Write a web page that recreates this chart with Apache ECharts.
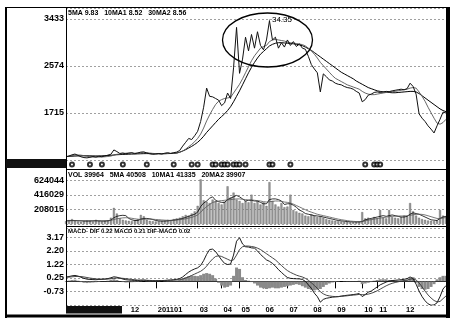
<!DOCTYPE html>
<html><head><meta charset="utf-8">
<script src="https://cdn.jsdelivr.net/npm/echarts@6/dist/echarts.min.js"></script>
<style>html,body{margin:0;padding:0;background:#fff}#c{width:457px;height:325px}</style>
</head><body><div id="c"></div>
<script>
// ---- price panel (axis units) ----
const CLOSE = [
 910,930,950,965,940,915,900,895,905,920,
 910,925,915,930,945,960,1040,1010,975,985,
 970,980,990,970,985,1000,1005,985,970,960,
 965,975,965,980,990,975,990,1000,1030,1110,
 1180,1250,1230,1300,1380,1560,1820,2170,2020,2010,
 1980,1950,1850,1900,2080,1980,2540,3280,2440,2700,
 3100,2850,3150,2900,3200,2950,2870,3050,3400,3050,
 3100,2900,3000,2920,3050,2950,3020,2930,2980,2900,
 2880,2750,2600,2520,2450,2100,2430,2380,2320,2300,
 2260,2240,2230,2200,2180,2170,2150,2110,2080,1920,
 1960,2040,2060,2090,2100,2090,2100,2110,2105,2120,
 2130,2140,2150,2140,2160,2260,2200,2060,1700,1620,
 1560,1480,1420,1350,1480,1600,1730,1715];
const MA10 = [
 920,925,935,945,948,945,935,925,915,910,
 908,910,912,915,920,928,945,960,965,972,
 980,985,982,980,983,987,990,988,983,977,
 972,970,970,972,975,978,980,985,995,1020,
 1055,1100,1140,1190,1250,1330,1440,1570,1680,1780,
 1870,1930,1960,1980,1990,2000,2080,2160,2240,2340,
 2450,2560,2670,2760,2830,2900,2930,2950,3020,3050,
 3060,3050,3040,3030,3010,3000,2990,2985,2975,2965,
 2940,2900,2850,2790,2720,2640,2580,2520,2460,2400,
 2350,2320,2290,2260,2230,2210,2190,2170,2150,2110,
 2080,2060,2050,2050,2060,2070,2080,2090,2100,2105,
 2110,2120,2130,2140,2150,2170,2180,2170,2100,2020,
 1930,1820,1720,1620,1530,1510,1540,1600];
const MA30 = [
 920,922,925,928,930,932,933,933,932,931,
 930,930,932,935,938,942,948,952,955,958,
 960,962,964,966,968,970,972,973,972,971,
 970,970,970,971,973,975,978,982,1000,1020,
 1045,1075,1105,1140,1180,1230,1290,1360,1420,1480,
 1540,1600,1650,1700,1760,1830,1920,2020,2120,2230,
 2340,2450,2550,2640,2720,2790,2840,2890,2940,2970,
 2990,3000,3000,2995,2990,2985,2980,2970,2960,2945,
 2920,2890,2860,2820,2780,2740,2700,2660,2620,2580,
 2540,2500,2460,2430,2400,2370,2340,2300,2270,2240,
 2210,2180,2160,2140,2120,2110,2100,2095,2090,2085,
 2085,2090,2095,2100,2105,2110,2110,2100,2070,2030,
 1990,1950,1910,1870,1830,1790,1760,1740];
const PRICE_TICKS = ['1715','2574','3433'];
const PRICE_MIN = 856, PRICE_STEP = 859, PRICE_MAX = 3634;
const PEAK_INDEX = 68, PEAK_VALUE = 3415, PEAK_TEXT = '34.35';
const EVENT_INDEX = [2,8,12,19,27,36,42,44,49,50,52,53,54,56,57,58,60,68,69,75,100,103,104,105];

// ---- volume panel (thousands) ----
const VOL = [
 40,55,70,45,35,30,40,50,45,35,
 60,40,35,45,50,90,230,150,80,60,
 50,45,40,55,70,130,110,60,45,40,
 35,40,45,50,60,55,70,80,90,110,
 130,120,150,180,260,640,340,320,300,350,
 330,300,280,320,540,380,450,350,330,300,
 330,310,420,300,330,280,310,260,600,330,
 280,250,300,240,250,420,200,180,160,150,
 120,110,140,120,100,110,90,70,60,50,
 45,40,35,30,30,25,25,30,35,170,
 80,90,70,100,80,200,90,80,200,100,
 90,80,100,120,110,300,180,120,90,70,
 60,50,45,40,50,200,120,90];
const VMA5 = [
 45,48,50,50,47,45,43,42,44,45,
 47,45,42,43,47,55,90,110,120,125,
 120,80,60,50,50,70,80,80,75,65,
 50,45,42,42,45,50,55,62,70,80,
 95,110,125,140,170,250,300,330,370,390,
 340,320,310,310,350,370,390,410,390,360,
 330,340,340,330,330,310,290,290,350,360,
 360,350,330,280,290,290,270,240,200,180,
 150,140,130,120,115,110,100,90,80,70,
 60,50,45,40,35,32,30,30,30,35,
 60,70,80,90,100,110,120,110,120,130,
 120,110,100,100,110,140,160,150,140,120,
 100,80,60,55,50,80,100,110];
const VMA10 = [
 45,46,47,48,48,47,46,45,45,45,
 46,46,45,45,46,50,65,75,82,88,
 90,88,82,75,68,65,68,70,70,68,
 65,62,58,55,52,52,55,58,62,68,
 75,85,95,110,130,170,210,250,280,310,
 320,330,335,340,345,350,355,360,360,355,
 350,345,345,340,335,330,320,315,320,325,
 330,330,325,315,310,300,285,265,245,225,
 205,185,170,155,140,130,120,110,100,90,
 80,70,62,55,48,42,38,35,34,35,
 45,55,62,70,78,85,92,98,105,110,
 112,114,115,115,118,125,132,138,140,138,
 130,118,105,92,80,78,85,95];
const VOL_TICKS = ['208015','416029','624044'];
const VOL_STEP = 624.044/3, VOL_MAX = 789.0;

// ---- MACD panel ----
const DIF = [
 0.31,0.35,0.40,0.43,0.38,0.30,0.22,0.16,0.14,0.13,
 0.12,0.14,0.15,0.17,0.20,0.26,0.33,0.30,0.24,0.17,
 0.12,0.10,0.08,0.07,0.06,0.08,0.09,0.07,0.05,0.04,
 0.04,0.05,0.06,0.07,0.09,0.10,0.12,0.15,0.20,0.32,
 0.50,0.67,0.80,0.90,0.98,1.15,1.50,1.95,2.30,2.33,
 2.15,1.85,1.55,1.30,1.22,1.25,1.90,2.90,3.15,2.70,
 2.50,2.48,2.42,2.40,2.20,1.95,1.75,1.55,1.45,1.30,
 1.10,0.85,0.65,0.45,0.28,0.22,0.20,0.19,0.18,0.14,
 0.00,-0.25,-0.50,-0.85,-1.10,-1.50,-1.30,-1.22,-1.18,-1.14,
 -1.12,-1.10,-1.06,-1.03,-1.00,-0.98,-0.95,-0.92,-0.88,-1.10,
 -0.95,-0.78,-0.70,-0.55,-0.40,-0.25,-0.15,-0.05,0.02,0.06,
 0.08,0.10,0.12,0.15,0.20,0.32,0.20,-0.20,-0.70,-1.10,
 -1.40,-1.62,-1.72,-1.70,-1.55,-1.10,-0.55,-0.30];
const DEA = [
 0.30,0.31,0.33,0.35,0.36,0.35,0.32,0.28,0.24,0.21,
 0.18,0.17,0.16,0.16,0.17,0.19,0.22,0.24,0.24,0.22,
 0.20,0.17,0.14,0.12,0.10,0.09,0.09,0.08,0.07,0.06,
 0.06,0.06,0.06,0.06,0.07,0.08,0.09,0.11,0.13,0.17,
 0.24,0.33,0.43,0.53,0.63,0.73,0.88,1.10,1.38,1.62,
 1.80,1.85,1.80,1.70,1.60,1.50,1.55,1.90,2.30,2.50,
 2.55,2.55,2.52,2.48,2.40,2.30,2.15,2.00,1.85,1.70,
 1.55,1.35,1.15,0.95,0.78,0.65,0.55,0.45,0.38,0.32,
 0.22,0.08,-0.10,-0.30,-0.50,-0.75,-0.90,-1.00,-1.05,-1.08,
 -1.10,-1.10,-1.08,-1.06,-1.04,-1.01,-0.99,-0.97,-0.94,-0.96,
 -0.96,-0.92,-0.86,-0.78,-0.68,-0.56,-0.44,-0.32,-0.22,-0.14,
 -0.08,-0.03,0.02,0.06,0.10,0.16,0.18,0.10,-0.10,-0.40,
 -0.70,-0.98,-1.20,-1.38,-1.48,-1.45,-1.25,-1.05];
const HIST = [
 0.02,0.06,0.10,0.12,0.05,-0.05,-0.10,-0.12,-0.10,-0.08,
 -0.06,-0.04,-0.02,0.02,0.05,0.10,0.15,0.10,0.02,-0.05,
 -0.08,-0.07,-0.06,-0.05,-0.04,-0.02,0.00,-0.02,-0.03,-0.03,
 -0.03,-0.02,0.00,0.02,0.03,0.04,0.05,0.06,0.10,0.20,
 0.30,0.38,0.42,0.40,0.38,0.45,0.55,0.60,0.55,0.45,
 0.20,-0.10,-0.30,-0.45,-0.40,-0.30,0.40,1.00,0.90,0.30,
 0.10,0.05,-0.05,-0.15,-0.30,-0.45,-0.50,-0.55,-0.50,-0.45,
 -0.50,-0.50,-0.45,-0.40,-0.35,-0.30,-0.25,-0.20,-0.25,-0.35,
 -0.45,-0.55,-0.60,-0.65,-0.60,-0.55,-0.40,-0.25,-0.15,-0.08,
 -0.05,-0.03,0.00,0.02,0.03,0.03,0.03,0.03,0.05,-0.20,
 -0.15,-0.10,-0.05,0.05,0.10,0.15,0.15,0.15,0.10,0.08,
 0.06,0.05,0.06,0.08,0.10,0.25,0.30,-0.10,-0.40,-0.55,
 -0.60,-0.55,-0.40,-0.20,0.15,0.30,0.40,0.40];
const MACD_TICKS = ['-0.73','0.25','1.22','2.20','3.17'];
const MACD_MIN = -1.705, MACD_STEP = 0.975, MACD_MAX = 3.855;

// ---- time axis ----
const MONTH_TICK_INDEX = [21,30,44,52,58,66,74,82,90,99,104,113];
const MONTH_TICK_LABEL = ['12','201101','03','04','05','06','07','08','09','10','11','12'];

// ---- headers ----
const HEAD_PRICE = '5MA 9.83   10MA1 8.52   30MA2 8.56';
const HEAD_VOL = 'VOL 39964   5MA 40508   10MA1 41335   20MA2 39907';
const HEAD_MACD = 'MACD- DIF 0.22 MACD 0.21 DIF-MACD 0.02';

const N = CLOSE.length;
const CATS = CLOSE.map((_, i) => 'd' + i);
const FONT = '"Liberation Sans", Arial, sans-serif';

function tickFmt(min, step, labels) {
  return function (v) {
    const k = (v - min) / step;
    const r = Math.round(k);
    if (Math.abs(k - r) > 0.02 || r < 1 || r > labels.length) return '';
    return labels[r - 1];
  };
}
const GRID_L = 66, GRID_R = 11;
const grids = [
  {left: GRID_L, right: GRID_R, top: 8, height: 152},
  {left: GRID_L, right: GRID_R, top: 160, height: 9},
  {left: GRID_L, right: GRID_R, top: 169, height: 55},
  {left: GRID_L, right: GRID_R, top: 228, height: 77}
].map(g => Object.assign({containLabel: false, outerBoundsMode: 'none', show: false}, g));

const isTick = idx => MONTH_TICK_INDEX.indexOf(idx) >= 0;
function xAx(gi, show) {
  return {type: 'category', gridIndex: gi, data: CATS, boundaryGap: false,
    axisLine: {show: show, lineStyle: {color: '#000', width: 1}},
    axisTick: {show: show, interval: isTick, length: 7, lineStyle: {color: '#000', width: 1}},
    axisLabel: {show: show, interval: isTick, align: 'left', margin: 1, padding: [0, 0, 0, 2],
      fontSize: 7.5, fontWeight: 'bold', color: '#000', fontFamily: FONT,
      formatter: (v, idx) => { const k = MONTH_TICK_INDEX.indexOf(idx); return k >= 0 ? MONTH_TICK_LABEL[k] : ''; }},
    splitLine: {show: false}};
}
const yLab = {fontSize: 9, fontWeight: 'bold', color: '#000', margin: 2, fontFamily: FONT};
const dash = {show: true, lineStyle: {color: '#888', type: [2, 2], width: 0.8}};
const yAxes = [
  {type: 'value', gridIndex: 0, min: PRICE_MIN, max: PRICE_MAX, interval: PRICE_STEP,
   axisLine: {show: false}, axisTick: {show: false}, splitLine: dash,
   axisLabel: Object.assign({formatter: tickFmt(PRICE_MIN, PRICE_STEP, PRICE_TICKS)}, yLab)},
  {type: 'value', gridIndex: 1, min: -1, max: 1, show: false, splitLine: {show: false}},
  {type: 'value', gridIndex: 2, min: 0, max: VOL_MAX, interval: VOL_STEP,
   axisLine: {show: false}, axisTick: {show: false}, splitLine: dash,
   axisLabel: Object.assign({formatter: tickFmt(0, VOL_STEP, VOL_TICKS)}, yLab)},
  {type: 'value', gridIndex: 3, min: MACD_MIN, max: MACD_MAX, interval: MACD_STEP,
   axisLine: {show: false}, axisTick: {show: false}, splitLine: dash,
   axisLabel: Object.assign({formatter: tickFmt(MACD_MIN, MACD_STEP, MACD_TICKS)}, yLab)}
];
const line = (data, xi, color, w, z) => ({type: 'line', xAxisIndex: xi, yAxisIndex: xi, data: data,
  symbol: 'none', lineStyle: {color: color, width: w}, z: z || 3, silent: true});

const series = [
  line(MA30, 0, '#000', 1, 2),
  line(MA10, 0, '#555', 0.9, 3),
  Object.assign(line(CLOSE, 0, '#111', 1, 4), {
    markPoint: {symbol: 'circle', symbolSize: 1, itemStyle: {color: '#000'},
      label: {show: true, position: 'right', distance: 2, formatter: PEAK_TEXT, fontSize: 8,
        color: '#000', fontFamily: FONT},
      data: [{coord: [PEAK_INDEX, PEAK_VALUE]}]}}),
  {type: 'scatter', xAxisIndex: 1, yAxisIndex: 1, data: EVENT_INDEX.map(i => [i, 0]),
   symbol: 'emptyCircle', symbolSize: 4, itemStyle: {color: '#000', borderColor: '#000', borderWidth: 0.7}},
  {type: 'bar', xAxisIndex: 2, yAxisIndex: 2, data: VOL, barWidth: 2,
   itemStyle: {color: '#9a9a9a', borderColor: '#444', borderWidth: 0.3}},
  line(VMA5, 2, '#000', 0.8, 4),
  line(VMA10, 2, '#555', 0.8, 4),
  {type: 'bar', xAxisIndex: 3, yAxisIndex: 3, data: HIST, barWidth: 3,
   itemStyle: {color: '#8a8a8a'}},
  line(DIF, 3, '#000', 0.9, 4),
  line(DEA, 3, '#333', 0.9, 4)
];

const txt = (x, y, s, size) => ({type: 'text', x: x, y: y, z: 100,
  style: {text: s, fill: '#000', font: 'bold ' + size + 'px ' + FONT, verticalAlign: 'middle', align: 'left'}});
const graphic = [
  {type: 'rect', z: 100, shape: {x: 6, y: 7.5, width: 441, height: 309}, style: {fill: 'none', stroke: '#000', lineWidth: 1}},
  {type: 'rect', z: 100, shape: {x: 5, y: 7, width: 2, height: 311}, style: {fill: '#000'}},
  {type: 'rect', z: 100, shape: {x: 446, y: 7, width: 4, height: 311}, style: {fill: '#000'}},
  {type: 'rect', z: 100, shape: {x: 5, y: 314.5, width: 445, height: 3}, style: {fill: '#000'}},
  {type: 'rect', z: 100, shape: {x: 6, y: 159, width: 60, height: 9}, style: {fill: '#111'}},
  {type: 'rect', z: 100, shape: {x: 66, y: 306, width: 56, height: 7.5}, style: {fill: '#111'}},
  {type: 'line', z: 100, shape: {x1: 66.5, y1: 7.5, x2: 66.5, y2: 306}, style: {stroke: '#000', lineWidth: 1}},
  {type: 'line', z: 100, shape: {x1: 66, y1: 169.5, x2: 446, y2: 169.5}, style: {stroke: '#000', lineWidth: 1}},
  {type: 'line', z: 100, shape: {x1: 66, y1: 226.5, x2: 446, y2: 226.5}, style: {stroke: '#000', lineWidth: 1}},
  {type: 'ellipse', z: 100, shape: {cx: 267.5, cy: 40, rx: 45, ry: 27}, style: {fill: 'none', stroke: '#000', lineWidth: 1.3}},
  txt(68, 13, HEAD_PRICE, 7),
  txt(68, 175, HEAD_VOL, 7),
  txt(68, 231, HEAD_MACD, 6)
];

const chart = echarts.init(document.getElementById('c'), null, {renderer: 'canvas'});
chart.setOption({
  animation: false,
  backgroundColor: '#fff',
  grid: grids,
  xAxis: [xAx(0, false), xAx(1, false), xAx(2, false), xAx(3, true)],
  yAxis: yAxes,
  series: series,
  graphic: graphic
});
</script></body></html>
